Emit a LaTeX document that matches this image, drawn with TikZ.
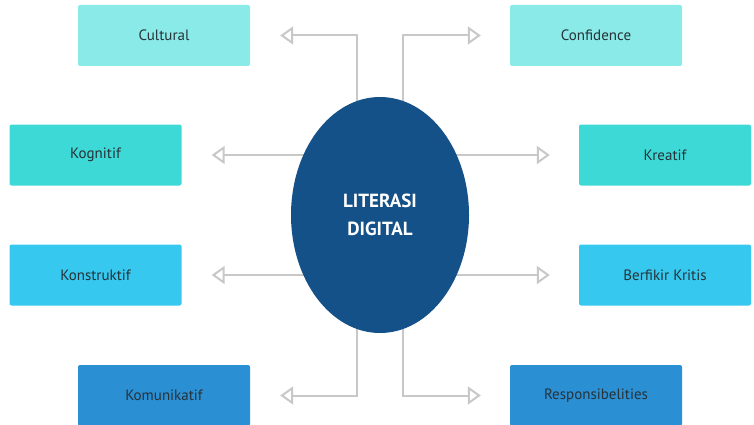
\documentclass[tikz,border=0pt]{standalone}
\usepackage{fontspec}
\setmainfont{PT Sans}
\usetikzlibrary{shapes.geometric,arrows.meta,backgrounds}
\definecolor{cA}{HTML}{8AEAE8}
\definecolor{cB}{HTML}{3DD9D6}
\definecolor{cC}{HTML}{36C8EE}
\definecolor{cD}{HTML}{2B8FD4}
\definecolor{cE}{HTML}{145189}
\definecolor{cline}{HTML}{C8C8C8}
\definecolor{ctext}{HTML}{263238}
\tikzset{
  box/.style={rectangle, rounded corners=2pt, minimum width=172pt, minimum height=61pt, inner sep=0pt,
    font=\fontsize{15}{17}\selectfont, text=ctext},
  conn/.style={draw=cline, line width=2pt, -{Triangle[open, length=13pt, width=18pt, line width=2pt]}},
}
\begin{document}
\begin{tikzpicture}[x=1pt,y=-1pt]
\useasboundingbox (0,0) rectangle (754,425);
\clip (0,0) rectangle (754,425);
\node[box, fill=cA] (cul) at (164,35.5) {Cultural};
\node[box, fill=cB] (kog) at (95.5,155) {Kognitif};
\node[box, fill=cC] (kon) at (95.5,275) {Konstruktif};
\node[box, fill=cD] (kom) at (164,395.5) {Komunikatif};
\node[box, fill=cA] (con) at (596,35.5) {Confidence};
\node[box, fill=cB] (kre) at (665,155) {Kreatif};
\node[box, fill=cC] (ber) at (665,275) {Berfikir Kritis};
\node[box, fill=cD] (res) at (596,395.5) {Responsibelities};
\node[ellipse, fill=cE, minimum width=178pt, minimum height=236pt, inner sep=0pt, text=white,
  font=\bfseries\fontsize{19}{28}\selectfont, align=center] (e) at (380,215) {LITERASI\\DIGITAL};
\begin{scope}[on background layer]
\draw[conn] ([xshift=-23pt]e.center) |- ([xshift=30pt]cul.east);
\draw[conn] (e.center |- kog.east) -- ([xshift=30pt]kog.east);
\draw[conn] (e.center |- kon.east) -- ([xshift=30pt]kon.east);
\draw[conn] ([xshift=-23pt]e.center) |- ([xshift=30pt]kom.east);
\draw[conn] ([xshift=23pt]e.center) |- ([xshift=-29pt]con.west);
\draw[conn] (e.center |- kre.west) -- ([xshift=-29pt]kre.west);
\draw[conn] (e.center |- ber.west) -- ([xshift=-29pt]ber.west);
\draw[conn] ([xshift=23pt]e.center) |- ([xshift=-29pt]res.west);
\end{scope}
\end{tikzpicture}
\end{document}
